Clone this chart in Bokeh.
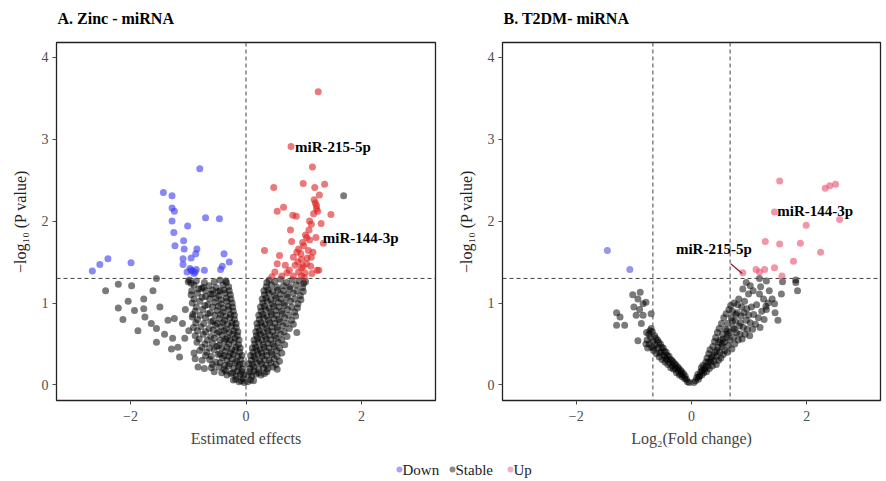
from bokeh.plotting import figure
from bokeh.layouts import column, row
from bokeh.models import Range1d, Span, FixedTicker
from bokeh.core.properties import value
from bokeh.embed import file_html
from bokeh.resources import INLINE

SERIF = "Liberation Serif"

# ---------------- data: panel A (Zinc - miRNA) ----------------
A_down = [(-0.80,2.64),(-1.43,2.35),(-1.28,2.31),(-1.28,2.16),(-1.24,2.12),(-1.28,2.00),(-1.01,1.94),
          (-0.70,2.04),(-0.46,2.03),(-1.25,1.86),(-1.08,1.76),(-1.23,1.70),(-1.07,1.66),(-0.85,1.66),
          (-0.87,1.60),(-0.38,1.60),(-1.09,1.54),(-0.95,1.55),(-0.29,1.50),(-1.09,1.47),(-0.95,1.40),
          (-0.86,1.41),(-0.72,1.40),(-0.44,1.41),(-0.41,1.45),(-1.02,1.38),(-0.90,1.36),(-2.39,1.54),
          (-2.53,1.47),(-2.66,1.39),(-1.99,1.49),(-0.93,1.39),(-0.97,1.42),(-0.88,1.38)]

A_up = [(1.25,3.58),(0.78,2.91),(1.15,2.66),(0.48,2.41),(0.99,2.46),(1.19,2.41),(1.36,2.45),(1.27,2.32),
        (0.65,2.17),(0.54,2.12),(0.81,2.07),(0.87,2.06),(1.22,2.19),(1.22,2.15),(1.17,2.09),(1.47,2.08),
        (1.13,1.96),(1.30,1.97),(0.77,1.89),(1.09,1.89),(1.03,1.83),(1.10,1.77),(0.79,1.75),(0.98,1.74),
        (1.34,1.73),(0.32,1.64),(0.91,1.66),(1.08,1.64),(0.58,1.58),(0.82,1.56),(0.96,1.53),(1.13,1.56),
        (0.54,1.48),(0.68,1.46),(0.85,1.46),(0.96,1.43),(1.05,1.48),(1.23,1.40),(0.50,1.38),(0.71,1.37),
        (0.91,1.38),(1.02,1.37),(0.62,1.33),(0.82,1.33),(0.96,1.33),(1.14,1.36),(1.26,1.40),(0.95,1.60),
        (1.00,1.70),(1.05,1.80),(1.10,2.00),(1.20,2.22),(1.18,2.26),(1.24,2.12),(0.90,1.50),(0.99,1.45),
        (1.06,1.55),(0.75,1.40),(0.88,1.62),(1.12,1.45),(1.01,1.31),(0.45,1.32),(1.16,1.62),(1.21,1.80)]

A_stable_left = [(-0.03,0.03),(-0.08,0.05),(-0.12,0.04),(-0.18,0.07),(-0.05,0.08),(-0.22,0.06),
    (-0.04,0.12),(-0.10,0.13),(-0.17,0.11),(-0.26,0.14),(-0.33,0.12),(-0.42,0.15),(-0.55,0.16),
    (-0.07,0.16),(-0.15,0.17),(-0.23,0.15),(-0.35,0.17),
    (-0.06,0.19),(-0.13,0.22),(-0.21,0.20),(-0.30,0.23),(-0.38,0.19),(-0.47,0.22),(-0.60,0.21),(-0.72,0.20),(-0.83,0.22),
    (-0.05,0.26),(-0.11,0.25),(-0.19,0.27),(-0.28,0.26),(-0.37,0.24),(-0.45,0.27),(-0.58,0.25),
    (-0.09,0.31),(-0.16,0.29),(-0.24,0.32),(-0.33,0.30),(-0.41,0.33),(-0.52,0.28),(-0.63,0.31),(-0.76,0.30),(-0.88,0.32),
    (-0.07,0.36),(-0.14,0.35),(-0.22,0.37),(-0.30,0.35),(-0.38,0.36),(-0.48,0.37),(-0.60,0.35),(-0.70,0.36),
    (-0.11,0.40),(-0.19,0.42),(-0.27,0.39),(-0.36,0.41),(-0.45,0.38),(-0.55,0.43),(-0.68,0.40),(-0.80,0.42),(-0.90,0.39),
    (-0.10,0.45),(-0.17,0.46),(-0.25,0.44),(-0.33,0.46),(-0.42,0.45),(-0.51,0.47),(-0.63,0.45),(-0.76,0.46),
    (-0.13,0.49),(-0.21,0.52),(-0.30,0.50),(-0.38,0.53),(-0.47,0.48),(-0.58,0.51),(-0.71,0.50),(-0.85,0.52),
    (-0.12,0.55),(-0.19,0.57),(-0.27,0.55),(-0.35,0.56),(-0.45,0.55),(-0.55,0.57),(-0.67,0.55),(-0.81,0.56),
    (-0.15,0.60),(-0.23,0.62),(-0.32,0.58),(-0.41,0.61),(-0.50,0.63),(-0.61,0.59),(-0.74,0.62),(-0.88,0.60),
    (-0.14,0.65),(-0.21,0.66),(-0.29,0.64),(-0.38,0.66),(-0.47,0.65),(-0.57,0.67),(-0.70,0.65),(-0.84,0.66),
    (-0.17,0.70),(-0.25,0.72),(-0.34,0.68),(-0.43,0.71),(-0.53,0.73),(-0.64,0.69),(-0.78,0.71),(-0.91,0.70),
    (-0.17,0.75),(-0.24,0.76),(-0.32,0.74),(-0.40,0.76),(-0.50,0.75),(-0.61,0.77),(-0.73,0.75),(-0.87,0.76),
    (-0.20,0.80),(-0.28,0.82),(-0.37,0.79),(-0.46,0.81),(-0.57,0.78),(-0.70,0.82),(-0.84,0.80),(-0.93,0.83),
    (-0.20,0.85),(-0.27,0.86),(-0.35,0.84),(-0.44,0.86),(-0.54,0.85),(-0.66,0.87),(-0.79,0.85),(-0.92,0.86),
    (-0.22,0.90),(-0.30,0.92),(-0.40,0.89),(-0.50,0.91),(-0.62,0.88),(-0.75,0.92),(-0.88,0.90),
    (-0.23,0.95),(-0.31,0.96),(-0.39,0.94),(-0.48,0.96),(-0.58,0.95),(-0.71,0.97),(-0.86,0.95),
    (-0.24,1.00),(-0.33,1.02),(-0.43,0.99),(-0.54,1.01),(-0.66,0.98),(-0.80,1.02),(-0.93,1.00),
    (-0.26,1.05),(-0.34,1.06),(-0.43,1.04),(-0.52,1.06),(-0.63,1.05),(-0.76,1.07),(-0.90,1.05),
    (-0.27,1.10),(-0.36,1.12),(-0.47,1.09),(-0.58,1.11),(-0.70,1.08),(-0.84,1.12),(-0.95,1.10),
    (-0.29,1.15),(-0.38,1.16),(-0.48,1.14),(-0.58,1.16),(-0.70,1.15),(-0.82,1.17),(-0.94,1.15),
    (-0.30,1.20),(-0.40,1.22),(-0.52,1.19),(-0.64,1.21),(-0.77,1.18),(-0.90,1.22),(-1.00,1.26),(-0.98,1.28),
    (-0.34,1.25),(-0.55,1.26),(-0.72,1.25),(-0.86,1.27),(-0.95,1.24),(-0.35,1.27),(-0.45,1.28)]

A_stable_right = [(0.03,0.04),(0.08,0.06),(0.13,0.05),
    (0.04,0.12),(0.10,0.11),(0.17,0.13),(0.26,0.12),(0.32,0.14),
    (0.06,0.16),(0.14,0.17),(0.22,0.15),(0.36,0.16),
    (0.07,0.20),(0.14,0.22),(0.22,0.19),(0.30,0.21),(0.38,0.20),(0.47,0.22),(0.54,0.19),
    (0.05,0.26),(0.11,0.25),(0.19,0.27),(0.27,0.26),(0.35,0.24),(0.43,0.27),(0.52,0.25),
    (0.09,0.30),(0.16,0.32),(0.24,0.29),(0.32,0.31),(0.40,0.30),(0.49,0.32),(0.58,0.29),
    (0.08,0.36),(0.14,0.35),(0.21,0.37),(0.28,0.35),(0.36,0.36),(0.45,0.37),(0.54,0.35),
    (0.12,0.40),(0.19,0.42),(0.27,0.39),(0.35,0.41),(0.44,0.40),(0.53,0.42),(0.62,0.39),
    (0.11,0.45),(0.17,0.46),(0.24,0.44),(0.31,0.46),(0.40,0.45),(0.49,0.47),(0.58,0.45),
    (0.15,0.50),(0.22,0.52),(0.30,0.49),(0.38,0.51),(0.47,0.50),(0.56,0.52),(0.67,0.49),
    (0.14,0.55),(0.20,0.57),(0.27,0.55),(0.35,0.56),(0.43,0.55),(0.52,0.57),(0.62,0.55),
    (0.18,0.60),(0.25,0.62),(0.33,0.59),(0.41,0.61),(0.50,0.60),(0.60,0.62),(0.71,0.59),(0.88,0.64),
    (0.17,0.65),(0.23,0.66),(0.30,0.64),(0.38,0.66),(0.46,0.65),(0.55,0.67),(0.66,0.65),
    (0.20,0.70),(0.28,0.72),(0.36,0.69),(0.45,0.71),(0.54,0.70),(0.64,0.72),(0.75,0.69),
    (0.19,0.75),(0.26,0.76),(0.33,0.74),(0.41,0.76),(0.50,0.75),(0.59,0.77),(0.70,0.75),(0.82,0.74),
    (0.23,0.80),(0.31,0.82),(0.39,0.79),(0.48,0.81),(0.57,0.80),(0.67,0.82),(0.79,0.79),
    (0.22,0.85),(0.29,0.86),(0.36,0.84),(0.44,0.86),(0.53,0.85),(0.63,0.87),(0.74,0.85),(0.86,0.84),
    (0.26,0.90),(0.34,0.92),(0.43,0.89),(0.52,0.91),(0.62,0.90),(0.72,0.92),(0.84,0.89),
    (0.25,0.95),(0.32,0.96),(0.40,0.94),(0.48,0.96),(0.57,0.95),(0.67,0.97),(0.79,0.95),(0.89,0.94),
    (0.29,1.00),(0.37,1.02),(0.46,0.99),(0.56,1.01),(0.66,1.00),(0.77,1.02),(0.90,0.99),
    (0.28,1.05),(0.35,1.06),(0.43,1.04),(0.52,1.06),(0.61,1.05),(0.72,1.07),(0.84,1.05),(0.95,1.04),
    (0.32,1.10),(0.40,1.12),(0.50,1.09),(0.60,1.11),(0.71,1.10),(0.82,1.12),(0.94,1.09),
    (0.31,1.15),(0.38,1.16),(0.46,1.14),(0.55,1.16),(0.65,1.15),(0.76,1.17),(0.88,1.15),(0.99,1.14),
    (0.35,1.20),(0.44,1.22),(0.54,1.19),(0.65,1.21),(0.76,1.20),(0.87,1.22),(0.98,1.19),(1.03,1.26),
    (0.36,1.25),(0.50,1.26),(0.70,1.25),(0.92,1.27),(1.00,1.24),
    (0.40,1.28),(0.60,1.29),(0.80,1.28),(1.69,2.31)]

A_stable_scatter = [(-2.43,1.15),(-2.21,1.23),(-1.98,1.21),(-2.21,0.94),(-2.04,1.02),(-2.13,0.80),(-1.93,0.91),
    (-1.77,1.05),(-1.77,0.93),(-1.61,1.15),(-1.55,1.30),(-1.87,0.66),(-1.75,0.83),(-1.64,0.75),(-1.55,0.69),
    (-1.49,0.95),(-1.41,0.62),(-1.55,0.52),(-1.35,0.79),(-1.24,0.81),(-1.27,0.57),(-1.29,0.44),(-1.18,0.46),
    (-1.15,0.34),(-1.06,0.57),(-0.99,0.66),(-0.74,1.19),(-0.61,1.11),(-0.45,1.15),(-1.10,0.75),(-1.05,0.92)]

# ---------------- data: panel B (T2DM - miRNA) ----------------
B_down = [(-1.46,1.64),(-1.07,1.41)]

B_up = [(1.53,2.49),(2.32,2.40),(2.40,2.43),(2.50,2.45),(1.44,2.11),(2.57,2.02),(1.99,1.95),(1.28,1.75),
        (1.53,1.72),(1.89,1.73),(2.24,1.62),(1.77,1.51),(1.12,1.41),(1.27,1.41),(1.44,1.43),(1.57,1.33),
        (0.89,1.37),(1.18,1.38)]

B_stable_left = [(-0.04,0.03),(-0.07,0.04),(-0.09,0.07),(-0.12,0.08),(-0.11,0.11),(-0.16,0.10),(-0.14,0.14),
    (-0.18,0.13),(-0.21,0.12),(-0.19,0.18),(-0.23,0.17),(-0.26,0.15),(-0.24,0.22),(-0.28,0.20),(-0.31,0.19),
    (-0.29,0.26),(-0.33,0.23),(-0.36,0.21),(-0.34,0.30),(-0.38,0.27),(-0.41,0.25),(-0.39,0.35),(-0.43,0.31),
    (-0.46,0.28),(-0.44,0.40),(-0.48,0.36),(-0.51,0.31),(-0.49,0.45),(-0.53,0.40),(-0.56,0.34),(-0.54,0.50),
    (-0.58,0.45),(-0.61,0.38),(-0.59,0.55),(-0.63,0.49),(-0.66,0.42),(-0.64,0.60),(-0.67,0.53),(-0.69,0.46),
    (-0.68,0.65),(-0.71,0.58),(-0.73,0.50),(-0.70,0.69),(-0.74,0.62),(-0.77,0.55),(-0.76,0.45),(-0.79,0.50),
    (-0.62,0.57),(-0.57,0.52),(-0.52,0.46),(-0.47,0.41),(-0.42,0.36),(-0.37,0.31),(-0.32,0.28),(-0.27,0.24),
    (-0.22,0.20),(-0.17,0.16),(-0.72,0.66),(-0.65,0.45),(-0.55,0.39),(-0.45,0.33)]

B_stable_right = [(0.04,0.03),(0.07,0.05),(0.09,0.09),(0.12,0.07),(0.11,0.13),(0.14,0.11),(0.16,0.16),
    (0.18,0.12),(0.17,0.21),(0.21,0.15),(0.20,0.24),(0.23,0.19),(0.25,0.28),(0.26,0.16),(0.28,0.23),
    (0.27,0.33),(0.31,0.20),(0.30,0.38),(0.33,0.28),(0.32,0.43),(0.36,0.23),(0.35,0.34),(0.37,0.47),
    (0.39,0.29),(0.41,0.40),(0.40,0.53),(0.43,0.25),(0.44,0.35),(0.42,0.58),(0.46,0.46),(0.47,0.30),
    (0.45,0.64),(0.49,0.40),(0.50,0.55),(0.51,0.33),(0.48,0.69),(0.53,0.47),(0.54,0.62),(0.55,0.37),
    (0.52,0.75),(0.57,0.52),(0.58,0.42),(0.56,0.82),(0.59,0.68),(0.61,0.58),(0.62,0.40),(0.60,0.87),
    (0.63,0.75),(0.64,0.48),(0.66,0.64),(0.65,0.92),(0.67,0.55),(0.69,0.82),(0.70,0.44),(0.68,0.97),
    (0.72,0.70),(0.73,0.58),(0.71,0.90),(0.75,0.50),(0.76,0.78),(0.74,1.00),(0.78,0.64),(0.79,0.88),
    (0.81,0.55),(0.80,0.98),(0.83,0.72),(0.84,0.62),(0.82,1.05),(0.86,0.84),(0.88,0.56),(0.87,0.95),
    (0.90,0.70),(0.91,0.88),(0.93,0.62),(0.92,1.02),(0.95,0.79),(0.97,0.68),(0.96,0.93),(0.99,0.85),
    (1.01,0.60),(1.02,0.76),(1.04,0.95),(1.06,0.68),(1.08,0.86),(1.11,0.74),(1.13,0.98),(1.16,0.82),
    (1.19,0.70),(1.22,0.90),(1.26,0.80),(1.29,0.96),(1.33,1.00),(0.38,0.36),(0.47,0.52),(0.55,0.56),
    (0.63,0.62),(0.74,0.68),(0.85,0.76),(0.29,0.28),(0.19,0.18),(0.13,0.10),(0.24,0.22),(0.34,0.31),
    (0.44,0.42),(0.53,0.50),(0.62,0.66),(0.71,0.78),(0.77,0.86)]

B_stable_scatter = [(-1.02,1.10),(-0.89,1.13),(-0.93,1.05),(-0.84,0.99),(-0.79,1.01),(-1.30,0.88),(-1.24,0.83),
    (-1.30,0.73),(-1.16,0.73),(-0.96,0.85),(-0.84,0.85),(-0.87,0.75),(-0.93,0.54),(-0.78,0.64),(-0.70,0.87),
    (-1.00,0.95),(-0.90,0.92),
    (0.89,1.17),(0.99,1.11),(1.07,1.15),(1.18,1.11),(1.44,0.99),(1.50,0.79),(1.56,1.11),(1.81,1.25),
    (1.84,1.15),(1.02,1.21),(1.20,1.20),(1.18,1.30),(1.30,1.27),(1.58,1.26),(1.81,1.28),(1.35,1.15),
    (1.40,1.05),(1.25,1.05),(1.30,0.92),(1.45,0.88),(0.95,1.25)]

# labels: (text, x, y)
A_labels = [("miR-215-5p", 0.85, 2.90), ("miR-144-3p", 1.33, 1.79)]
B_labels = [("miR-144-3p", 1.49, 2.12), ("miR-215-5p", -0.27, 1.66)]
B_pointer = [(0.68, 1.48, 0.88, 1.36)]

panel_titles = ["A. Zinc - miRNA", "B. T2DM- miRNA"]
x_ticks = [-2, 0, 2]
x_tick_labels = ["\u22122", "0", "2"]
y_ticks = [0, 1, 2, 3, 4]
p_threshold = 1.30
A_vlines = [0.0]
B_vlines = [-0.67, 0.67]

legend_labels = ["Down", "Stable", "Up"]

TICK_COLOR = "#4d4d4d"
DOT = 7
TITLE_H = 34
FIG_H = 421


def xs(pts):
    return [p[0] for p in pts]


def ys(pts):
    return [p[1] for p in pts]


def make_panel(xlabel, down, stable, up, down_color, up_color, vlines, labels,
               width, border_left, border_right):
    p = figure(width=width, height=FIG_H, output_backend="svg", toolbar_location=None,
               x_range=Range1d(-3.28, 3.28), y_range=Range1d(-0.19, 4.18),
               min_border_left=border_left, min_border_right=border_right,
               min_border_top=8, min_border_bottom=55)
    p.grid.visible = False
    p.outline_line_color = "#222222"
    p.outline_line_width = 1.3
    p.background_fill_color = "white"
    p.border_fill_color = "white"

    p.xaxis.ticker = FixedTicker(ticks=x_ticks)
    p.xaxis.major_label_overrides = {float(t): l for t, l in zip(x_ticks, x_tick_labels)}
    p.yaxis.ticker = FixedTicker(ticks=y_ticks)
    for ax in (p.xaxis[0], p.yaxis[0]):
        ax.axis_line_color = None
        ax.major_tick_line_color = TICK_COLOR
        ax.major_tick_out = 4
        ax.major_tick_in = 0
        ax.minor_tick_line_color = None
        ax.major_label_text_font = SERIF
        ax.major_label_text_font_size = "14px"
        ax.major_label_text_color = TICK_COLOR
        ax.axis_label_text_font = SERIF
        ax.axis_label_text_font_size = "16px"
        ax.axis_label_text_font_style = "normal"
        ax.axis_label_text_color = "#444444"
    p.xaxis.axis_label = xlabel
    p.xaxis.major_label_standoff = 6
    p.xaxis.axis_label_standoff = 6
    p.yaxis.axis_label = "\u2212log\u2081\u2080 (P value)"
    p.yaxis.major_label_standoff = 4
    p.yaxis.axis_label_standoff = 10
    p.yaxis.axis_label_text_color = "#222222"

    p.scatter(xs(stable), ys(stable), size=DOT, fill_color="black", fill_alpha=0.52,
              line_color=None)
    p.scatter(xs(down), ys(down), size=DOT, fill_color=down_color, fill_alpha=0.6, line_color=None)
    p.scatter(xs(up), ys(up), size=DOT, fill_color=up_color, fill_alpha=0.6, line_color=None)

    p.add_layout(Span(location=p_threshold, dimension="width", line_color="#444444",
                      line_dash="4 3", line_width=1))
    for v in vlines:
        p.add_layout(Span(location=v, dimension="height", line_color="#444444",
                          line_dash="4 3", line_width=1))

    p.text([l[1] for l in labels], [l[2] for l in labels], text=[l[0] for l in labels],
           text_font=value(SERIF), text_font_style="bold", text_font_size="15px",
           text_color="black", text_align="left", text_baseline="middle")
    return p


pA = make_panel("Estimated effects", A_down,
                A_stable_left + A_stable_right + A_stable_scatter, A_up,
                "#3a3af0", "#dd2020", A_vlines, A_labels, 443, 56, 8)
pB = make_panel("Log\u2082(Fold change)", B_down,
                B_stable_left + B_stable_right + B_stable_scatter, B_up,
                "#5050e0", "#e8506e", B_vlines, B_labels, 443, 59, 6)
pB.segment([s[0] for s in B_pointer], [s[1] for s in B_pointer],
           [s[2] for s in B_pointer], [s[3] for s in B_pointer],
           line_color="#8b1a2b", line_width=1.2)

# ---------------- title strip ----------------
tstrip = figure(width=886, height=TITLE_H, output_backend="svg", toolbar_location=None,
                x_range=Range1d(0, 886), y_range=Range1d(TITLE_H, 0), min_border=0)
tstrip.axis.visible = False
tstrip.grid.visible = False
tstrip.outline_line_color = None
tstrip.text([57, 503], [18, 18], text=panel_titles, text_font=value(SERIF),
            text_font_size="16px", text_font_style="bold", text_color="black",
            text_align="left", text_baseline="middle")

# ---------------- legend strip ----------------
leg = figure(width=886, height=26, output_backend="svg", toolbar_location=None,
             x_range=Range1d(0, 886), y_range=Range1d(26, 0), min_border=0)
leg.axis.visible = False
leg.grid.visible = False
leg.outline_line_color = None
leg_colors = ["#3a3af0", "black", "#e8506e"]
leg_x = [399, 452, 510]
leg.scatter(leg_x, [14] * 3, size=6, fill_color=leg_colors, fill_alpha=0.45, line_color=None)
leg.text([x + 3 for x in leg_x], [14] * 3, text=legend_labels, text_font=value(SERIF),
         text_font_size="15px", text_color="#222222", text_align="left", text_baseline="middle")

layout = column(tstrip, row(pA, pB), leg)
open("out.html", "w").write(file_html(layout, INLINE))
